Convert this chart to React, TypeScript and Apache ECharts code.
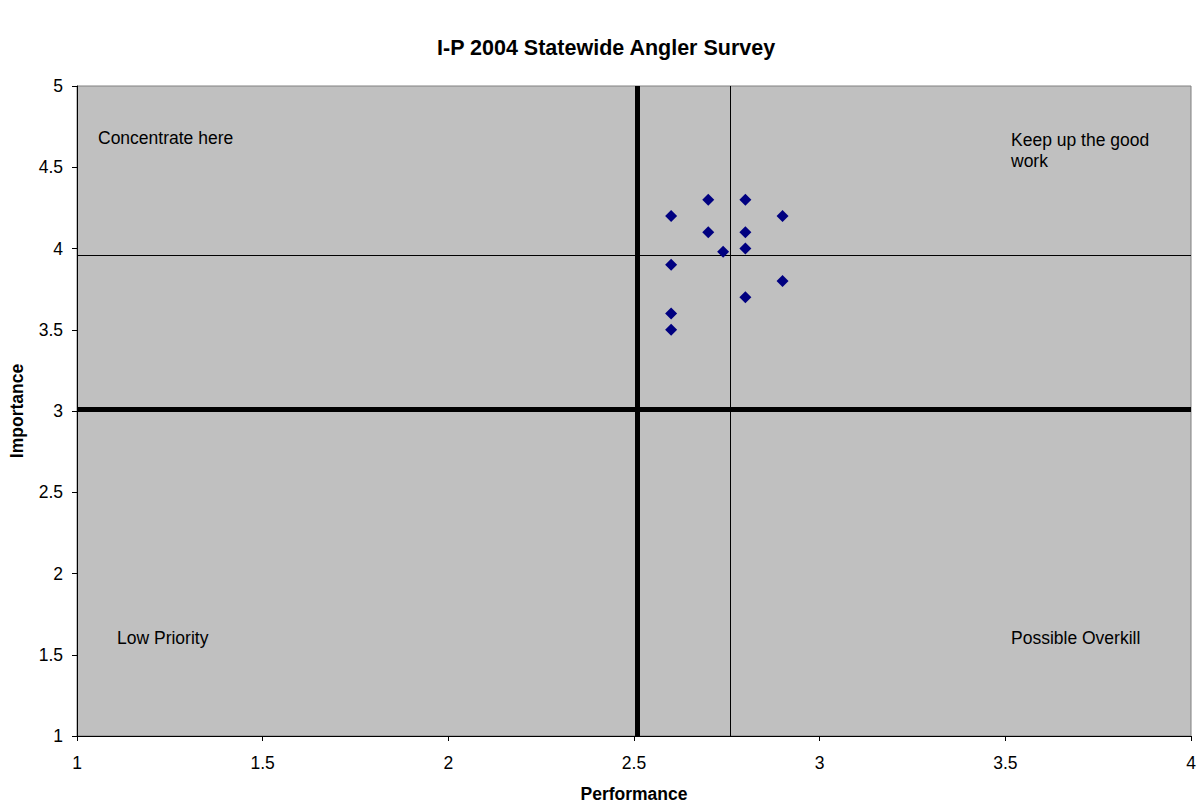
import React, { useEffect, useRef } from "react";
import * as echarts from "echarts";

const title = "I-P 2004 Statewide Angler Survey";
const xName = "Performance";
const yName = "Importance";
const performance = [2.6, 2.7, 2.8, 2.9, 2.7, 2.8, 2.8, 2.74, 2.6, 2.9, 2.8, 2.6, 2.6];
const importance = [4.2, 4.3, 4.3, 4.2, 4.1, 4.1, 4.0, 3.98, 3.9, 3.8, 3.7, 3.6, 3.5];
const thickX = 2.51;
const thickY = 3.01;
const meanX = 2.76;
const meanY = 3.955;
const quadrantLabels = ["Concentrate here", "Keep up the good\nwork", "Low Priority", "Possible Overkill"];

export default function App() {
  const ref = useRef<HTMLDivElement>(null);
  useEffect(() => {
    const chart = echarts.init(ref.current!, null, { renderer: "svg" });
    const font = "'Liberation Sans', Arial, sans-serif";
    const labelStyle = { fontFamily: font, fontSize: 17.5, fill: "#000" };
    chart.setOption({
      animation: false,
      backgroundColor: "#fff",
      title: {
        text: title,
        left: 432,
        top: 32,
        textStyle: { fontFamily: font, fontSize: 21.5, fontWeight: "bold", color: "#000" },
      },
      grid: {
        left: 77,
        right: 12,
        top: 86,
        bottom: 68,
        outerBoundsMode: "none",
        containLabel: false,
        show: true,
        backgroundColor: "#C0C0C0",
        borderColor: "#808080",
        borderWidth: 1,
      },
      xAxis: {
        type: "value",
        min: 1,
        max: 4,
        interval: 0.5,
        name: xName,
        nameLocation: "middle",
        nameGap: 49,
        nameTextStyle: { fontFamily: font, fontSize: 17.5, fontWeight: "bold", color: "#000" },
        axisLine: { show: true, lineStyle: { color: "#000", width: 1 } },
        axisTick: { show: true, length: 5, lineStyle: { color: "#000" } },
        axisLabel: { fontFamily: font, fontSize: 17.5, color: "#000", margin: 18 },
        splitLine: { show: false },
      },
      yAxis: {
        type: "value",
        min: 1,
        max: 5,
        interval: 0.5,
        name: yName,
        nameLocation: "middle",
        nameGap: 51,
        nameTextStyle: { fontFamily: font, fontSize: 17.5, fontWeight: "bold", color: "#000" },
        axisLine: { show: true, lineStyle: { color: "#000", width: 1 } },
        axisTick: { show: true, length: 5, lineStyle: { color: "#000" } },
        axisLabel: { fontFamily: font, fontSize: 17.5, color: "#000", margin: 14 },
        splitLine: { show: false },
      },
      series: [
        {
          type: "scatter",
          symbol: "diamond",
          symbolSize: 12,
          itemStyle: { color: "#000080", opacity: 1 },
          data: performance.map((x, i) => [x, importance[i]]),
          z: 5,
          markLine: {
            silent: true,
            symbol: "none",
            label: { show: false },
            data: [
              { xAxis: thickX, lineStyle: { color: "#000", width: 5, type: "solid" } },
              { yAxis: thickY, lineStyle: { color: "#000", width: 5, type: "solid" } },
              { xAxis: meanX, lineStyle: { color: "#000", width: 1, type: "solid" } },
              { yAxis: meanY, lineStyle: { color: "#000", width: 1, type: "solid" } },
            ],
          },
        },
      ],
      graphic: [
        { type: "text", left: 98, top: 129, style: { ...labelStyle, text: quadrantLabels[0] } },
        { type: "text", left: 1011, top: 129, style: { ...labelStyle, text: quadrantLabels[1], lineHeight: 21 } },
        { type: "text", left: 117, top: 629, style: { ...labelStyle, text: quadrantLabels[2] } },
        { type: "text", left: 1011, top: 629, style: { ...labelStyle, text: quadrantLabels[3] } },
      ],
    });
    return () => chart.dispose();
  }, []);
  return (
    <div
      ref={ref}
      style={{ position: "fixed", left: 0, top: 0, width: 1203, height: 804 }}
    />
  );
}
